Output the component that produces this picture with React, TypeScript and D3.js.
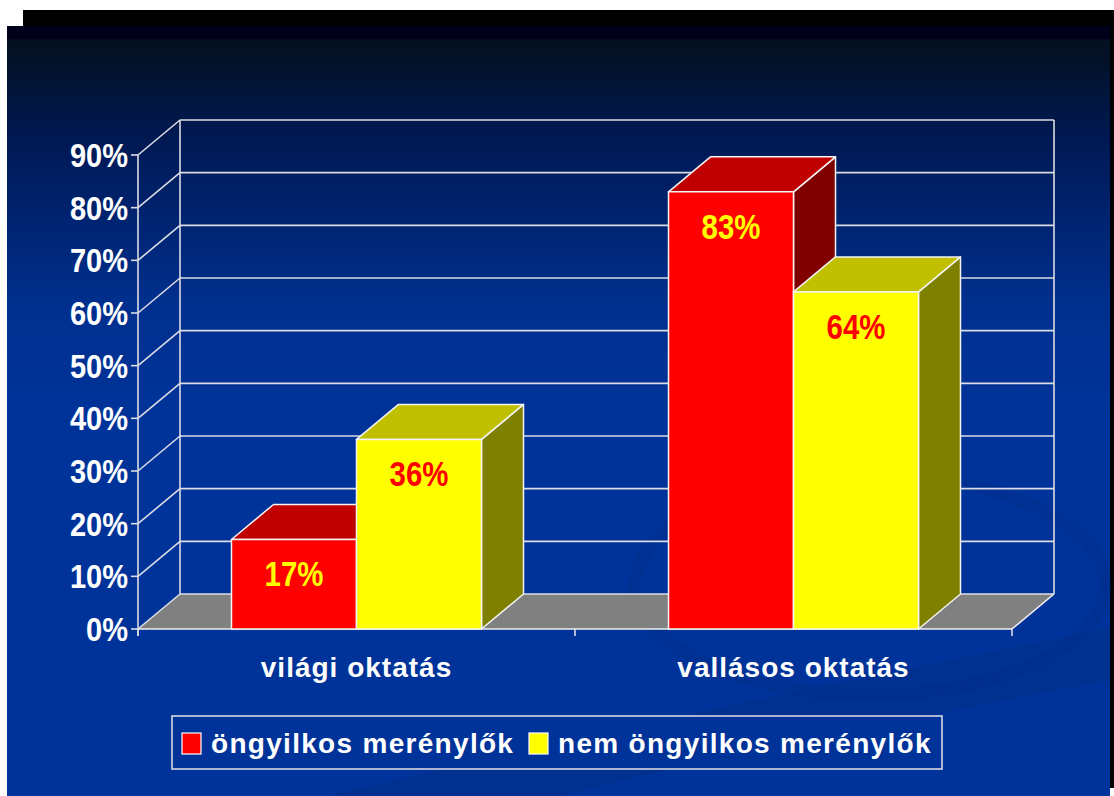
import React from "react";
import * as d3 from "d3";

const categories = ["világi oktatás", "vallásos oktatás"];
const seriesNames = ["öngyilkos merénylők", "nem öngyilkos merénylők"];
const suicideValues = [0.17, 0.83];
const nonSuicideValues = [0.36, 0.64];
const tickValues = [0, 0.1, 0.2, 0.3, 0.4, 0.5, 0.6, 0.7, 0.8, 0.9];

const FONT = "'Liberation Sans', Arial, sans-serif";
const DX = 42;
const DY = 35;

const seriesColors = [
  { front: "#ff0000", top: "#c00000", side: "#800000", label: "#ffff00" },
  { front: "#ffff00", top: "#c0c000", side: "#808000", label: "#ff0000" },
];

export default function App() {
  const W = 1114;
  const H = 796;
  const y = d3.scaleLinear().domain([0, 0.9]).range([629, 155]);
  const x = d3.scaleBand<string>().domain(categories).range([138, 1012]);
  const barW = 125;
  const series = [suicideValues, nonSuicideValues];
  const y0 = y(0);
  const xL = x.range()[0];
  const xR = x.range()[1];
  const fmt = d3.format(".0%");
  const grid = "#dcdce4";

  const bars: any[] = [];
  categories.forEach((c, ci) => {
    const center = (x(c) as number) + x.bandwidth() / 2;
    series.forEach((vals, si) => {
      const x0 = center - barW + si * barW;
      const x1 = x0 + barW;
      const yt = y(vals[ci]);
      bars.push({ x0, x1, yt, v: vals[ci], si, key: `${ci}-${si}` });
    });
  });

  return (
    <svg width={W} height={H} style={{ position: "absolute", left: 0, top: 0 }}>
      <defs>
        <linearGradient id="bg" x1="0" y1="26" x2="0" y2="796" gradientUnits="userSpaceOnUse">
          <stop offset="0" stopColor="#00001a" />
          <stop offset="0.016" stopColor="#00001a" />
          <stop offset="0.018" stopColor="#04101f" />
          <stop offset="0.16" stopColor="#001a58" />
          <stop offset="0.36" stopColor="#002f8e" />
          <stop offset="0.5" stopColor="#003399" />
          <stop offset="1" stopColor="#003399" />
        </linearGradient>
      </defs>
      <rect x={0} y={0} width={W} height={H} fill="#ffffff" />
      <rect x={23} y={10} width={1091} height={778} fill="#000000" />
      <rect x={7} y={26} width={1103} height={770} fill="url(#bg)" />
      {/* decorative swoosh */}
      <path
        d="M 330 796 C 600 730, 900 670, 1110 628 L 1110 680 C 900 720, 700 760, 560 796 Z"
        fill="#002c86"
        opacity={0.45}
      />
      <ellipse cx={870} cy={585} rx={235} ry={110} fill="none" stroke="#002c86" strokeWidth={12} opacity={0.3} />

      {/* floor */}
      <polygon
        points={`${xL},${y0} ${xR},${y0} ${xR + DX},${y0 - DY} ${xL + DX},${y0 - DY}`}
        fill="#808080"
      />
      {/* back wall grid */}
      {tickValues.map((t) => (
        <g key={t}>
          <line x1={xL + DX} x2={xR + DX} y1={y(t) - DY} y2={y(t) - DY} stroke={grid} strokeWidth={1.6} />
          <line x1={xL} x2={xL + DX} y1={y(t)} y2={y(t) - DY} stroke={grid} strokeWidth={1.6} />
          <line x1={xL - 7} x2={xL} y1={y(t)} y2={y(t)} stroke={grid} strokeWidth={1.6} />
        </g>
      ))}
      <line x1={xL + DX} x2={xL + DX} y1={y(0.9) - DY} y2={y0 - DY} stroke={grid} strokeWidth={1.6} />
      <line x1={xR + DX} x2={xR + DX} y1={y(0.9) - DY} y2={y0 - DY} stroke={grid} strokeWidth={1.6} />
      <line x1={xL} x2={xL} y1={y(0.9)} y2={y0 + 7} stroke={grid} strokeWidth={1.6} />
      <line x1={xR} x2={xR + DX} y1={y0} y2={y0 - DY} stroke="#f0f0f0" strokeWidth={1.6} />
      <line x1={xL} x2={xR} y1={y0} y2={y0} stroke="#f0f0f0" strokeWidth={1.6} />
      {[...categories.map((c) => x(c) as number), xR].map((tx, i) => (
        <line key={i} x1={tx} x2={tx} y1={y0} y2={y0 + 7} stroke={grid} strokeWidth={1.6} />
      ))}

      {/* bars */}
      {bars.map((b) => {
        const col = seriesColors[b.si];
        return (
          <g key={b.key} stroke="#f4f4f4" strokeWidth={1.5} strokeLinejoin="round">
            <polygon
              points={`${b.x1},${b.yt} ${b.x1 + DX},${b.yt - DY} ${b.x1 + DX},${y0 - DY} ${b.x1},${y0}`}
              fill={col.side}
            />
            <polygon
              points={`${b.x0},${b.yt} ${b.x1},${b.yt} ${b.x1 + DX},${b.yt - DY} ${b.x0 + DX},${b.yt - DY}`}
              fill={col.top}
            />
            <rect x={b.x0} y={b.yt} width={b.x1 - b.x0} height={y0 - b.yt} fill={col.front} />
          </g>
        );
      })}
      {bars.map((b) => (
        <text
          key={"l" + b.key}
          transform={`translate(${(b.x0 + b.x1) / 2},${b.yt + 47}) scale(0.84,1)`}
          textAnchor="middle"
          fontFamily={FONT}
          fontWeight="bold"
          fontSize={35}
          fill={seriesColors[b.si].label}
        >
          {fmt(b.v)}
        </text>
      ))}

      {/* y tick labels */}
      {tickValues.map((t) => (
        <text
          key={"t" + t}
          transform={`translate(128,${y(t) + 12}) scale(0.88,1)`}
          textAnchor="end"
          fontFamily={FONT}
          fontWeight="bold"
          fontSize={33}
          fill="#ffffff"
        >
          {fmt(t)}
        </text>
      ))}

      {/* category labels */}
      {categories.map((c) => (
        <text
          key={c}
          x={(x(c) as number) + x.bandwidth() / 2}
          y={677}
          textAnchor="middle"
          fontFamily={FONT}
          fontWeight="bold"
          fontSize={28}
          letterSpacing={1}
          fill="#ffffff"
        >
          {c}
        </text>
      ))}

      {/* legend */}
      <rect x={172} y={716} width={770} height={53} fill="#003399" stroke="#d8d8e0" strokeWidth={1.6} />
      <rect x={182} y={733} width={19} height={21} fill={seriesColors[0].front} stroke="#ffffff" strokeWidth={1.2} />
      <text x={211} y={753} fontFamily={FONT} fontWeight="bold" fontSize={28} letterSpacing={1.3} fill="#ffffff">
        {seriesNames[0]}
      </text>
      <rect x={529} y={733} width={19} height={21} fill={seriesColors[1].front} stroke="#ffffff" strokeWidth={1.2} />
      <text x={558} y={753} fontFamily={FONT} fontWeight="bold" fontSize={28} letterSpacing={1.3} fill="#ffffff">
        {seriesNames[1]}
      </text>
    </svg>
  );
}
